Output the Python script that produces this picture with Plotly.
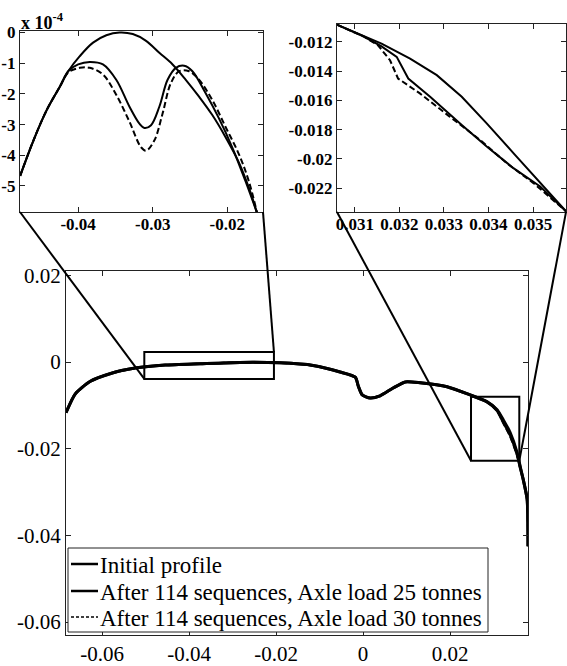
import plotly.graph_objects as go

# ---------------- data ----------------
# Main profile (x, y in metres)
main_x = [-0.0683, -0.0662, -0.0628, -0.0582, -0.0524, -0.0455, -0.0375, -0.0283, -0.0191,
          -0.0115, -0.0053, -0.0018, -0.0011, -0.0002, 0.0016, 0.0039, 0.0069, 0.0097, 0.0131,
          0.0193, 0.0246, 0.0285, 0.0308, 0.0322, 0.0338, 0.0354, 0.0361, 0.0368, 0.0377, 0.0379]
main_init = [-0.0117, -0.0074, -0.0045, -0.0027, -0.0014, -0.0007, -0.0004, -0.0001, -0.0002,
             -0.0008, -0.0023, -0.0035, -0.0056, -0.0076, -0.0083, -0.0078, -0.0060, -0.0046, -0.0048,
             -0.0057, -0.0076, -0.0092, -0.0110, -0.0133, -0.0163, -0.0209, -0.0241, -0.0271, -0.0317, -0.0425]
main_25 = [-0.0117, -0.0074, -0.0045, -0.0027, -0.0014, -0.0007, -0.0004, -0.0001, -0.0002,
           -0.0008, -0.0023, -0.0035, -0.0056, -0.0076, -0.0083, -0.0078, -0.0060, -0.0046, -0.0048,
           -0.0057, -0.0076, -0.0092, -0.0112, -0.0138, -0.0168, -0.0213, -0.0243, -0.0271, -0.0317, -0.0425]
main_30 = [-0.0117, -0.0074, -0.0045, -0.0027, -0.0014, -0.0007, -0.0004, -0.0001, -0.0002,
           -0.0008, -0.0023, -0.0035, -0.0056, -0.0076, -0.0083, -0.0078, -0.0060, -0.0046, -0.0048,
           -0.0057, -0.0076, -0.0092, -0.0113, -0.0141, -0.0172, -0.0216, -0.0244, -0.0271, -0.0317, -0.0425]

# Left inset (y in units of 1e-4)
li_x_init = [-0.04778, -0.0460, -0.04422, -0.04244, -0.04133, -0.03978, -0.038, -0.03622, -0.03444,
             -0.03267, -0.03089, -0.02911, -0.02733, -0.02556, -0.02378, -0.022, -0.02022, -0.01844,
             -0.01711, -0.016]
li_y_init = [-4.67, -3.52, -2.53, -1.76, -1.26, -0.77, -0.33, -0.09, 0.0,
             -0.05, -0.27, -0.66, -1.04, -1.54, -2.09, -2.69, -3.41, -4.23, -5.05, -5.88]
li_x_25 = [-0.04778, -0.0460, -0.04422, -0.04244, -0.04133, -0.04, -0.03844, -0.03667, -0.03489,
           -0.03311, -0.03178, -0.03111, -0.03022, -0.02911, -0.028, -0.02689, -0.02578, -0.02467,
           -0.02289, -0.02111, -0.01933, -0.01756, -0.016]
li_y_25 = [-4.67, -3.52, -2.53, -1.76, -1.26, -1.04, -0.96, -1.04, -1.54,
           -2.42, -2.97, -3.11, -3.02, -2.42, -1.54, -1.15, -1.08, -1.26,
           -1.98, -2.80, -3.74, -4.84, -5.88]
li_x_30 = [-0.04778, -0.0460, -0.04422, -0.04244, -0.04133, -0.03978, -0.03844, -0.03667, -0.03489,
           -0.03311, -0.03156, -0.03089, -0.02978, -0.02867, -0.02756, -0.02644, -0.02511, -0.02378,
           -0.022, -0.02022, -0.01844, -0.01711, -0.016]
li_y_30 = [-4.67, -3.52, -2.53, -1.76, -1.30, -1.15, -1.15, -1.37, -2.03,
           -2.91, -3.74, -3.85, -3.52, -2.64, -1.65, -1.26, -1.26, -1.54,
           -2.20, -3.08, -3.96, -4.84, -5.88]

# Right inset
ri_x_init = [0.0306, 0.0316, 0.03224, 0.03284, 0.0334, 0.03396, 0.03456, 0.03516, 0.03574]
ri_y_init = [-0.01082, -0.01211, -0.01314, -0.01427, -0.01575, -0.01757, -0.01961, -0.02166, -0.02359]
ri_x_25 = [0.0306, 0.03119, 0.0316, 0.03194, 0.0322, 0.03269, 0.0334, 0.03396, 0.03456, 0.03516, 0.03574]
ri_y_25 = [-0.01082, -0.01161, -0.0123, -0.01302, -0.0145, -0.01575, -0.01768, -0.01916, -0.02064, -0.02189, -0.02359]
ri_x_30 = [0.0306, 0.03119, 0.03152, 0.03179, 0.03197, 0.03246, 0.03313, 0.03381, 0.03441, 0.03501, 0.03574]
ri_y_30 = [-0.01082, -0.01161, -0.01223, -0.01325, -0.0145, -0.01552, -0.01711, -0.0187, -0.0203, -0.02166, -0.02359]

series_names = ["Initial profile",
                "After 114 sequences, Axle load 25 tonnes",
                "After 114 sequences, Axle load 30 tonnes"]

main_xticks = [-0.06, -0.04, -0.02, 0, 0.02]
main_xtext = ["-0.06", "-0.04", "-0.02", "0", "0.02"]
main_yticks = [0.02, 0, -0.02, -0.04, -0.06]
main_ytext = ["0.02", "0", "-0.02", "-0.04", "-0.06"]
li_xticks = [-0.04, -0.03, -0.02]
li_xtext = ["-0.04", "-0.03", "-0.02"]
li_yticks = [0, -1, -2, -3, -4, -5]
li_ytext = ["0", "-1", "-2", "-3", "-4", "-5"]
ri_xticks = [0.031, 0.032, 0.033, 0.034, 0.035]
ri_xtext = ["0.031", "0.032", "0.033", "0.034", "0.035"]
ri_yticks = [-0.012, -0.014, -0.016, -0.018, -0.02, -0.022]
ri_ytext = ["-0.012", "-0.014", "-0.016", "-0.018", "-0.02", "-0.022"]

# zoom boxes in main-axis data coordinates
box_left = dict(x0=-0.0503, x1=-0.0205, y0=-0.0039, y1=0.0023)
box_right = dict(x0=0.0248, x1=0.0359, y0=-0.0228, y1=-0.0080)

# ---------------- layout geometry ----------------
W, H = 567, 666
main_xr = [-0.0683, 0.0379]
main_yr = [-0.063, 0.021]
main_xd = [66 / W, 528 / W]
main_yd = [(H - 635) / H, (H - 271) / H]
li_xr = [-0.0478, -0.0152]
li_yr = [-5.85, 0.05]
li_xd = [20 / W, 263 / W]
li_yd = [(H - 212) / H, (H - 31) / H]
ri_xr = [0.0306, 0.03574]
ri_yr = [-0.02364, -0.01077]
ri_xd = [337 / W, 566 / W]
ri_yd = [(H - 212) / H, (H - 24) / H]

FONT = "Liberation Serif, Times New Roman, serif"
BLACK = "#000000"

fig = go.Figure()

dashes = ["solid", "solid", "6px,3px"]
main_widths = [3, 3, 2]

for name, ys, dsh, wd in zip(series_names, [main_init, main_25, main_30], dashes, main_widths):
    fig.add_trace(go.Scatter(x=main_x, y=ys, mode="lines", name=name, showlegend=False,
                             line=dict(color=BLACK, width=wd, dash=dsh, shape="spline", smoothing=0.6),
                             xaxis="x", yaxis="y"))

for name, xs, ys, dsh in zip(series_names, [li_x_init, li_x_25, li_x_30], [li_y_init, li_y_25, li_y_30], dashes):
    fig.add_trace(go.Scatter(x=xs, y=ys, mode="lines", name=name, showlegend=False,
                             line=dict(color=BLACK, width=2, dash=dsh, shape="spline", smoothing=1.0),
                             xaxis="x2", yaxis="y2"))

for name, xs, ys, dsh in zip(series_names, [ri_x_init, ri_x_25, ri_x_30], [ri_y_init, ri_y_25, ri_y_30], dashes):
    fig.add_trace(go.Scatter(x=xs, y=ys, mode="lines", name=name, showlegend=False,
                             line=dict(color=BLACK, width=2, dash=dsh),
                             xaxis="x3", yaxis="y3"))


def axis(rng, dom, tv, tt, anchor, size, bold=False, standoff=0):
    return dict(range=rng, domain=dom, tickvals=tv, ticktext=tt, anchor=anchor,
                automargin=False,
                ticks="inside", ticklen=5, tickwidth=1, tickcolor="#222",
                mirror="ticks", showline=True, linecolor="#222", linewidth=1.3,
                showgrid=False, zeroline=False, ticklabelstandoff=standoff,
                tickfont=dict(family=FONT, size=size, color=BLACK,
                              weight="bold" if bold else "normal"))


def to_paper(v, rng, dom):
    return dom[0] + (v - rng[0]) / (rng[1] - rng[0]) * (dom[1] - dom[0])


shapes = []
for b in (box_left, box_right):
    shapes.append(dict(type="rect", xref="x", yref="y", x0=b["x0"], x1=b["x1"], y0=b["y0"], y1=b["y1"],
                       line=dict(color=BLACK, width=2)))

# connector lines (inset corners -> box corners)
conn = [
    ((li_xd[0], li_yd[0]), (box_left["x0"], box_left["y0"])),
    ((li_xd[1], li_yd[0]), (box_left["x1"], box_left["y1"])),
    ((ri_xd[0], ri_yd[0]), (box_right["x0"], box_right["y0"])),
    ((ri_xd[1], ri_yd[0]), (box_right["x1"], box_right["y0"])),
]
for (px, py), (bx, by) in conn:
    shapes.append(dict(type="line", xref="paper", yref="paper",
                       x0=px, y0=py,
                       x1=to_paper(bx, main_xr, main_xd), y1=to_paper(by, main_yr, main_yd),
                       line=dict(color=BLACK, width=2)))

# legend box drawn in paper space (MATLAB-style compact legend)
leg_left, leg_right, leg_top, leg_bottom = 68, 488, 548, 632
row_y = [565, 592, 618]
shapes.append(dict(type="rect", xref="paper", yref="paper",
                   x0=leg_left / W, x1=leg_right / W, y0=(H - leg_bottom) / H, y1=(H - leg_top) / H,
                   fillcolor="white", line=dict(color="#222", width=1), layer="above"))
annotations = []
for name, ry, dsh, wd in zip(series_names, row_y, dashes, [2.5, 2.5, 1.5]):
    shapes.append(dict(type="line", xref="paper", yref="paper",
                       x0=71 / W, x1=98 / W, y0=(H - ry + 1) / H, y1=(H - ry + 1) / H,
                       line=dict(color=BLACK, width=wd, dash="3px,2px" if dsh != "solid" else "solid"),
                       layer="above"))
    annotations.append(dict(xref="paper", yref="paper", x=98 / W, y=(H - ry) / H,
                            xanchor="left", yanchor="middle", showarrow=False, text=name,
                            font=dict(family=FONT, size=23, color=BLACK)))

annotations.append(dict(xref="paper", yref="paper", x=19 / W, y=(H - 35) / H,
                        xanchor="left", yanchor="bottom", showarrow=False,
                        text="x 10<sup>-4</sup>",
                        font=dict(family=FONT, size=18, color=BLACK, weight="bold")))

fig.update_layout(
    width=W, height=H,
    margin=dict(l=0, r=0, t=0, b=0, autoexpand=False),
    paper_bgcolor="white", plot_bgcolor="white",
    font=dict(family=FONT, color=BLACK),
    xaxis=axis(main_xr, main_xd, main_xticks, main_xtext, "y", 21, standoff=0),
    yaxis=axis(main_yr, main_yd, main_yticks, main_ytext, "x", 21),
    xaxis2=axis(li_xr, li_xd, li_xticks, li_xtext, "y2", 17, True, standoff=-4),
    yaxis2=axis(li_yr, li_yd, li_yticks, li_ytext, "x2", 17, True),
    xaxis3=axis(ri_xr, ri_xd, ri_xticks, ri_xtext, "y3", 17, True, standoff=-4),
    yaxis3=axis(ri_yr, ri_yd, ri_yticks, ri_ytext, "x3", 17, True),
    shapes=shapes,
    annotations=annotations,
    showlegend=False,
)

fig.write_html("out.html")
